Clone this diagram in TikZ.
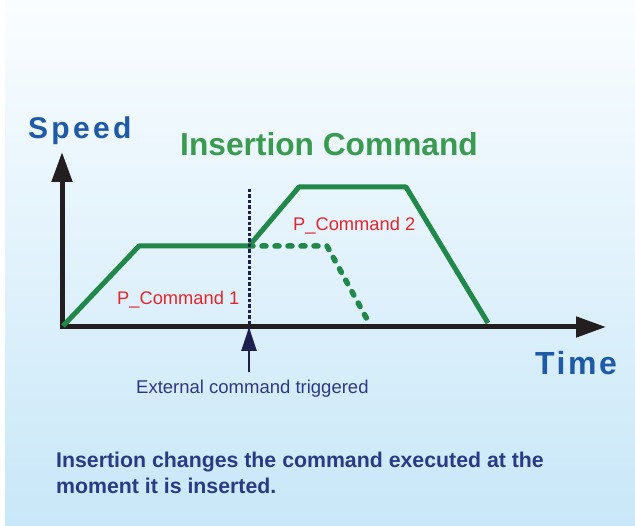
\documentclass[tikz,border=0pt]{standalone}
\usepackage{fontspec}
\setmainfont{Liberation Sans}
\usetikzlibrary{arrows.meta}
\definecolor{bgtop}{HTML}{FAFDFF}
\definecolor{bgbot}{HTML}{C8E7F8}
\definecolor{axisc}{HTML}{231F20}
\definecolor{lineg}{HTML}{21884A}
\definecolor{titleg}{HTML}{3A9A50}
\definecolor{labelb}{HTML}{1E5AA7}
\definecolor{cmdred}{HTML}{E3262B}
\definecolor{navytxt}{HTML}{2B3A85}
\definecolor{navyarr}{HTML}{1D204E}
\tikzset{
  axisline/.style={draw=axisc,line width=5pt,-{Triangle[length=30pt,width=20pt]}},
  profile/.style={draw=lineg,line width=5pt,line join=round},
  oldprofile/.style={draw=lineg,line width=5.5pt,line cap=round,line join=round,dash pattern=on 4pt off 9pt},
  trigline/.style={draw=navyarr,line width=3pt,dash pattern=on 3.5pt off 2pt},
  trigarrow/.style={draw=navyarr,line width=2.5pt,-{Triangle[length=24pt,width=15pt]}},
  txt/.style={inner sep=0pt,anchor=base west},
}
\begin{document}
\begin{tikzpicture}[x=1pt,y=-1pt]
\useasboundingbox (0,0) rectangle (635,526);
\fill[white] (0,0) rectangle (635,526);
\shade[top color=bgtop,bottom color=bgbot] (5,0) rectangle (635,526);
% axes
\coordinate (O) at (62,327);
\coordinate (ytip) at (62,152);
\coordinate (xtip) at (606,327);
\draw[axisline] (62,329.5) -- (ytip);
\draw[axisline] (59.5,327) -- (xtip);
% profile points
\coordinate (p0) at (63,326);
\coordinate (p1) at (139,246);
\coordinate (p2) at (249,246);
\coordinate (p3) at (299,187);
\coordinate (p4) at (406,187);
\coordinate (p5) at (488,323);
\coordinate (d1) at (327,246);
\coordinate (d2) at (368,321);
\draw[oldprofile] (p2) -- (d1) -- (d2);
\draw[profile] (p0) -- (p1) -- (p2) -- (p3) -- (p4) -- (p5);
% trigger
\coordinate (vtop) at (249,189);
\coordinate (vbot) at (249,327);
\coordinate (abot) at (249,372);
\draw[trigline] (vtop) -- (vbot);
\draw[trigarrow] (abot) -- (vbot);
% texts
\node[txt,text=labelb,font=\fontsize{30}{36}\selectfont\bfseries\addfontfeatures{LetterSpace=11}] (speed) at (28,139) {Speed};
\node[txt,text=labelb,font=\fontsize{32}{38}\selectfont\bfseries\addfontfeatures{LetterSpace=8}] (time) at (535,375) {Time};
\node[txt,text=titleg,font=\fontsize{31.7}{38}\selectfont\bfseries] (title) at (180,156) {Insertion Command};
\node[txt,text=cmdred,font=\fontsize{18.3}{22}\selectfont] (pc1) at (117,305) {P\_Command 1};
\node[txt,text=cmdred,font=\fontsize{18.3}{22}\selectfont] (pc2) at (293,231) {P\_Command 2};
\node[txt,text=navytxt,font=\fontsize{18.5}{22}\selectfont] (ext) at (136,394) {External command triggered};
\node[txt,text=navytxt,align=left,font=\fontsize{21.3}{26}\selectfont\bfseries] (note) at (56,494) {Insertion changes the command executed at the\\moment it is inserted.};
\end{tikzpicture}
\end{document}
